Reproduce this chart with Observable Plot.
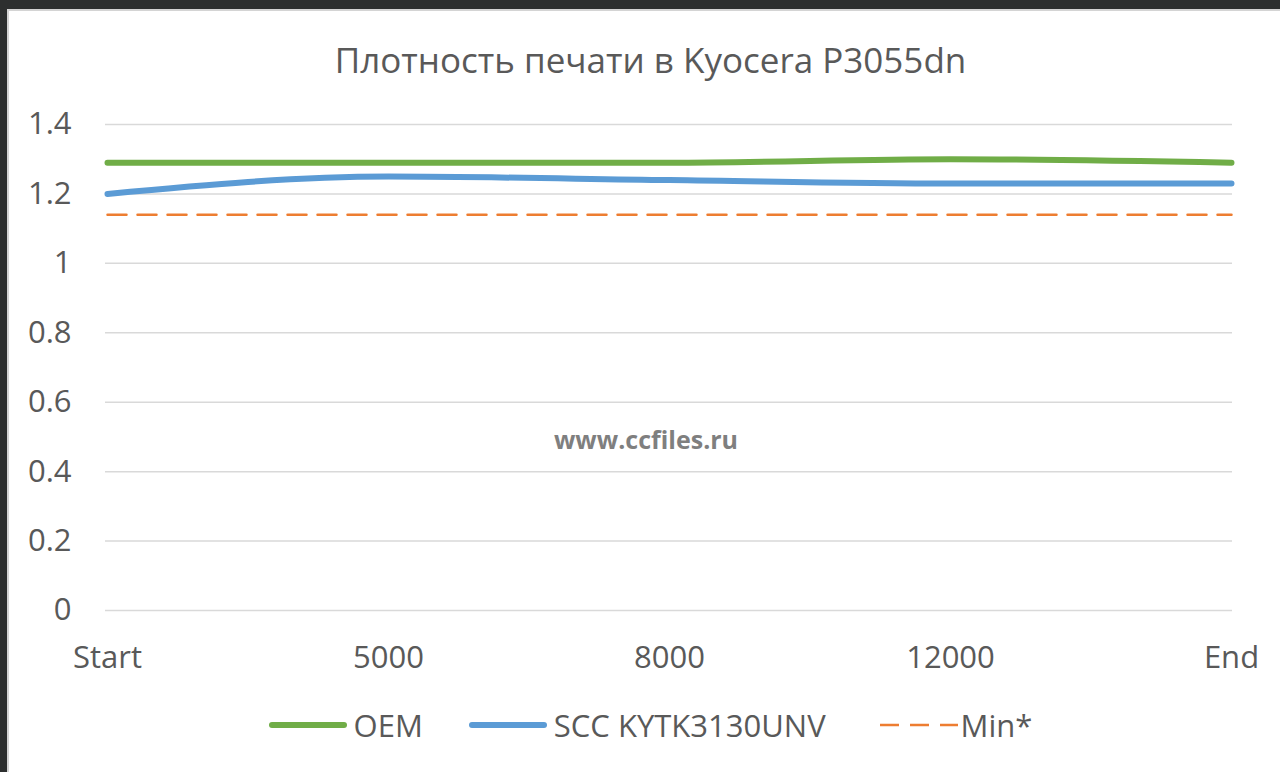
<!DOCTYPE html>
<html><head><meta charset="utf-8">
<script src="https://cdn.jsdelivr.net/npm/d3@7"></script>
<script src="https://cdn.jsdelivr.net/npm/@observablehq/plot@0.6"></script>
<style>
html,body{margin:0;padding:0;background:#2d2f2f;width:1280px;height:772px;overflow:hidden;}
#frame{position:absolute;left:7px;top:9px;width:1273px;height:763px;background:#fff;border-left:2px solid #d4d4d4;border-top:2px solid #d4d4d4;box-sizing:border-box;font-family:"Open Sans",sans-serif;color:#595959;}
#title{height:90px;line-height:1;font-size:35px;text-align:center;padding-left:12px;padding-top:31px;box-sizing:border-box;}
#chart svg{display:block;}
#legend{height:48px;display:flex;justify-content:center;align-items:center;font-size:31px;padding-left:12px;box-sizing:border-box;}
.item{display:flex;align-items:center;margin:0 23px;}
.item svg{margin-right:7px;}
.item.dashed{margin-left:31px;}
.item.dashed svg{margin-right:3px;}
</style></head>
<body>
<div id="frame">
  <div id="title"></div>
  <div id="chart"></div>
  <div id="legend"></div>
</div>
<script>
const titleText = "Плотность печати в Kyocera P3055dn";
const categories = ["Start", "5000", "8000", "12000", "End"];
const oemValues = [1.29, 1.29, 1.29, 1.30, 1.29];
const sccValues = [1.20, 1.25, 1.24, 1.23, 1.23];
const minValues = [1.14, 1.14, 1.14, 1.14, 1.14];
const seriesNames = ["OEM", "SCC KYTK3130UNV", "Min*"];
const seriesColors = ["#70ad47", "#5b9bd5", "#ed7d31"];
const yTicks = [0, 0.2, 0.4, 0.6, 0.8, 1, 1.2, 1.4];
const yTickLabels = ["0", "0.2", "0.4", "0.6", "0.8", "1", "1.2", "1.4"];
const watermark = "www.ccfiles.ru";

document.getElementById("title").textContent = titleText;

const toRows = (vals, name) => categories.map((c, i) => ({cat: c, value: vals[i], series: name}));
const oem = toRows(oemValues, seriesNames[0]);
const scc = toRows(sccValues, seriesNames[1]);
const mins = toRows(minValues, seriesNames[2]);

const chart = Plot.plot({
  width: 1271,
  height: 600,
  marginTop: 23,
  marginBottom: 91,
  marginLeft: 96,
  marginRight: 48,
  style: {fontFamily: "'Open Sans', sans-serif", fontSize: "31px", color: "#595959", background: "#fff"},
  x: {type: "point", domain: categories, padding: 0, label: null, tickSize: 0, tickPadding: 35},
  y: {domain: [0, 1.4], ticks: yTicks, tickFormat: d => yTickLabels[yTicks.indexOf(d)], label: null, tickSize: 0, tickPadding: 34},
  marks: [
    Plot.gridY(yTicks, {stroke: "#d9d9d9", strokeOpacity: 1, strokeWidth: 1.5}),
    Plot.line(mins, {x: "cat", y: "value", stroke: seriesColors[2], strokeWidth: 2.5, strokeDasharray: "19,11"}),
    Plot.line(scc, {x: "cat", y: "value", stroke: seriesColors[1], strokeWidth: 6, curve: "monotone-x"}),
    Plot.line(oem, {x: "cat", y: "value", stroke: seriesColors[0], strokeWidth: 6, curve: "monotone-x"}),
    Plot.text([watermark], {frameAnchor: "middle", dx: -23, dy: 73, text: d => d, fontWeight: "bold", fontSize: 25, fill: "#7f7f7f"})
  ]
});
document.getElementById("chart").appendChild(chart);

const legend = document.getElementById("legend");
seriesNames.forEach((name, i) => {
  const item = document.createElement("div");
  const dashed = i === 2;
  item.className = dashed ? "item dashed" : "item";
  item.innerHTML = `<svg width="78" height="12"><line x1="${dashed ? 0 : 3}" y1="6" x2="${dashed ? 78 : 75}" y2="6" stroke="${seriesColors[i]}" stroke-width="${dashed ? 2.5 : 6}" stroke-linecap="${dashed ? 'butt' : 'round'}" ${dashed ? 'stroke-dasharray="19,11"' : ''}/></svg><span></span>`;
  item.querySelector("span").textContent = name;
  legend.appendChild(item);
});
</script>
</body></html>
